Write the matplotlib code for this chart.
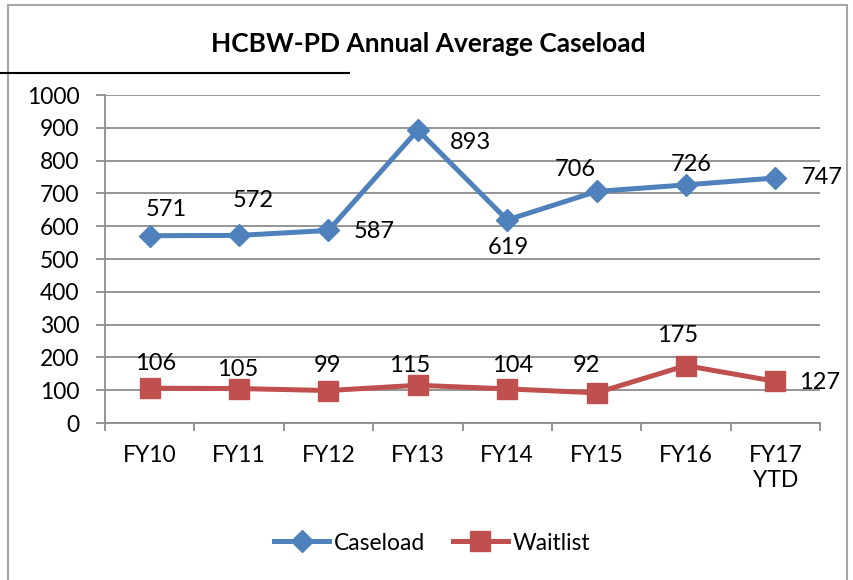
import matplotlib.pyplot as plt
from matplotlib.lines import Line2D
from matplotlib.patches import Rectangle

categories = ['FY10', 'FY11', 'FY12', 'FY13', 'FY14', 'FY15', 'FY16', 'FY17\nYTD']
caseload = [571, 572, 587, 893, 619, 706, 726, 747]
waitlist = [106, 105, 99, 115, 104, 92, 175, 127]

# label offsets (points)
case_off = [(12, 19), (10, 25), (33, -1), (38, -9), (1, -20), (-15, 16), (4, 15), (34, 0)]
wait_off = [(4, 18), (-1, 14), (-1, 18), (-6, 14), (4, 17), (-7, 20), (-6, 22), (32, -1)]

plt.rcParams['font.family'] = ['Lato', 'DejaVu Sans']

blue = '#4F81BD'
red = '#C0504D'
grey = '#8C8C8C'
fs = 16.5

fig = plt.figure(figsize=(8.54, 5.8), dpi=100)
ax = fig.add_axes([105 / 854, 1 - 423 / 580, 715 / 854, 328 / 580])

x = list(range(len(categories)))
ax.plot(x, caseload, color=blue, lw=3.6, marker='D', ms=11, label='Caseload')
ax.plot(x, waitlist, color=red, lw=3.6, marker='s', ms=14, label='Waitlist')

for i, v in enumerate(caseload):
    ax.annotate(str(v), (i, v), xytext=case_off[i], textcoords='offset points',
                ha='center', va='center', fontsize=fs + 0.5)
for i, v in enumerate(waitlist):
    ax.annotate(str(v), (i, v), xytext=wait_off[i], textcoords='offset points',
                ha='center', va='center', fontsize=fs + 0.5)

ax.set_xlim(-0.5, len(categories) - 0.5)
ax.set_ylim(0, 1000)
ax.set_yticks(range(0, 1001, 100))
ax.set_xticks(x)
ax.set_xticklabels(categories, fontsize=fs, linespacing=1.2)
ax.tick_params(axis='y', labelsize=fs, length=6.5, color=grey, width=1.3, pad=12)
ax.tick_params(axis='x', length=0, pad=16)
ax.set_xticks([i - 0.5 for i in range(len(categories) + 1)], minor=True)
ax.tick_params(axis='x', which='minor', length=5.5, color=grey, width=1.3)
ax.yaxis.grid(True, color=grey, lw=1.3)
ax.set_axisbelow(True)
for s in ['top', 'right']:
    ax.spines[s].set_visible(False)
for s in ['left', 'bottom']:
    ax.spines[s].set_color(grey)
    ax.spines[s].set_linewidth(1.3)

fig.text(428 / 854, 1 - 44 / 580, 'HCBW-PD Annual Average Caseload',
         ha='center', va='center', fontsize=19, fontweight='bold')

# chart border and stray line
fig.patches.append(Rectangle((8 / 854, -0.02), 839 / 854, 1.02 - 5 / 580,
                             transform=fig.transFigure, fill=False,
                             edgecolor='#A6A6A6', lw=1.5))
fig.lines.append(Line2D([0, 349 / 854], [1 - 73 / 580, 1 - 73 / 580],
                        transform=fig.transFigure, color='black', lw=1.5))

fig.legend(loc='center', bbox_to_anchor=(432 / 854, 1 - 543 / 580), ncol=2,
           frameon=False, fontsize=fs, handlelength=2.4, columnspacing=1.2,
           handletextpad=0.2)

fig.savefig('out.png', dpi=100)
